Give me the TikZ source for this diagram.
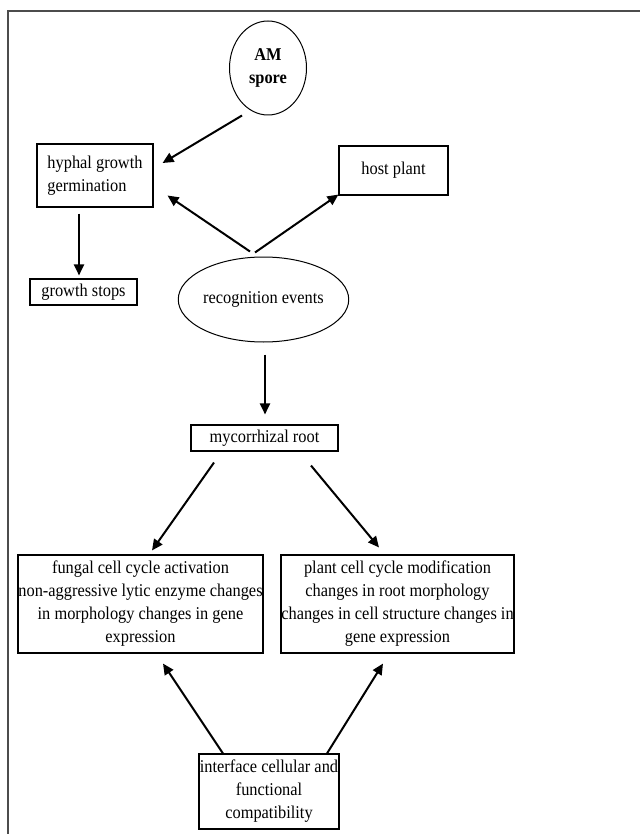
\documentclass[tikz,border=0pt]{standalone}
\usepackage{fontspec}
\setmainfont{Liberation Serif}[FakeStretch=0.91]
\usetikzlibrary{arrows.meta,shapes.geometric,calc}
\tikzset{
  box/.style={draw,line width=1.1pt,inner sep=0pt,align=center,font=\fontsize{18}{23}\selectfont},
  oval/.style={draw,ellipse,line width=1pt,inner sep=0pt,align=center,font=\fontsize{18}{23}\selectfont},
  arr/.style={line width=2pt,-{Triangle[length=11pt,width=10pt]}},
  frame/.style={draw=black!70,line width=1.2pt}
}
\begin{document}
\begin{tikzpicture}[x=1pt,y=-1pt]
\useasboundingbox (0,0) rectangle (640,834);
\draw[frame] (8,834) -- (8,11) -- (640,11);

\node[oval,minimum width=77pt,minimum height=94pt] (spore) at (268,68) {\bfseries AM\\\bfseries spore};
\node[box,minimum width=116pt,minimum height=63pt,align=left] (hyph) at (95,175.5) {hyphal growth\\germination};
\node[box,minimum width=109pt,minimum height=49pt] (host) at (393.5,170.5) {host plant};
\node[box,minimum width=107pt,minimum height=26pt] (stops) at (83.5,292) {growth stops};
\node[oval,minimum width=167pt,minimum height=85pt] (recog) at (263.5,299.5) {recognition events};
\node[box,minimum width=147pt,minimum height=26pt] (myco) at (264.5,438) {mycorrhizal root};
\node[box,minimum width=245pt,minimum height=98pt] (fungal) at (140.5,604) {fungal cell cycle activation\\non-aggressive lytic enzyme changes\\in morphology changes in gene\\expression};
\node[box,minimum width=233pt,minimum height=98pt] (plant) at (397.5,604) {plant cell cycle modification\\changes in root morphology\\changes in cell structure changes in\\gene expression};
\node[box,minimum width=140pt,minimum height=75pt] (inter) at (269,791.5) {interface cellular and\\functional\\compatibility};

\draw[arr] ($(spore.south)+(-26,0)$) -- ($(hyph.east)+(9,-12.5)$);
\draw[arr] ($(recog.north)+(-13.5,-5)$) -- ($(hyph.south east)+(14,-12)$);
\draw[arr] ($(recog.north)+(-8.5,-4)$) -- ($(host.south west)+(0,-1)$);
\draw[arr] ($(hyph.south)+(-16,6)$) -- ($(stops.north)+(-4.5,-3)$);
\draw[arr] ($(recog.south)+(1.5,12)$) -- ($(myco.north)+(0.5,-10)$);
\draw[arr] ($(myco.south)+(-50.5,11)$) -- ($(fungal.north)+(11.5,-4)$);
\draw[arr] ($(myco.south)+(46.5,14)$) -- ($(plant.north)+(-18.5,-7)$);
\draw[arr] ($(inter.north)+(-46,0)$) -- ($(fungal.south)+(22.5,10)$);
\draw[arr] ($(inter.north)+(58,0)$) -- ($(plant.south)+(-14.5,10)$);
\end{tikzpicture}
\end{document}
